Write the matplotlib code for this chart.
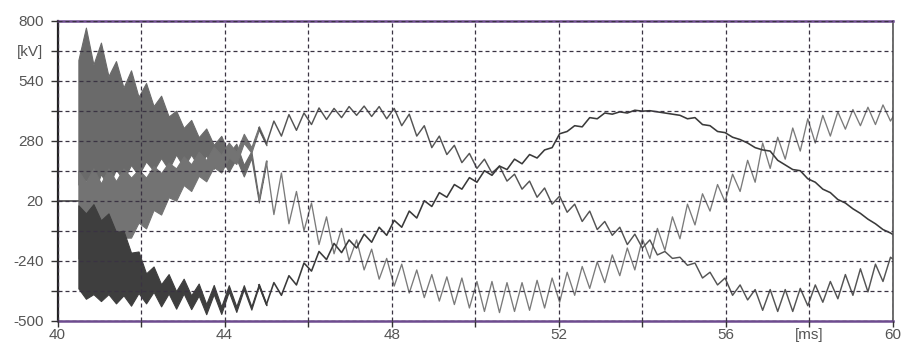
import numpy as np
import matplotlib
matplotlib.use("Agg")
import matplotlib.pyplot as plt

plt.rcParams['font.family'] = ['Liberation Sans', 'DejaVu Sans']

# Sample instants of the recorded waveforms (ripple extrema spacing), ms
t_ms = 40.5 + 0.18 * np.arange(110)

# Pre-switching level, kV
pre_t = [40.0, 40.5]
pre_kv = [20, 20]

# Phase voltages at the sample instants, kV
phase_a_kv = [-180, -220, -190, -240, -210, -270, -250, -320, -290, -360,
              -320, -390, -340, -410, -350, -420, -365, -450, -365, -455,
              -360, -450, -355, -445, -345, -430, -335, -390, -305, -345,
              -250, -285, -200, -235, -165, -205, -150, -185, -125, -160,
              -95, -130, -65, -95, -25, -55, 20, -5, 55, 35,
              90, 70, 120, 100, 150, 130, 170, 155, 200, 180,
              220, 205, 240, 250, 310, 320, 345, 340, 380, 375,
              400, 395, 405, 400, 412, 408, 410, 405, 400, 395,
              390, 375, 380, 350, 345, 320, 315, 295, 285, 270,
              250, 240, 235, 195, 175, 155, 150, 115, 100, 70,
              55, 25, 10, -15, -35, -60, -80, -105, -120, -140]

phase_b_kv = [-40, -80, -20, -70, -10, -40, 10, -10, 40, 10,
              75, 50, 110, 90, 150, 120, 180, 150, 210, 180,
              240, 205, 290, 240, 335, 265, 365, 300, 393, 325,
              400, 350, 422, 372, 420, 380, 428, 390, 430, 385,
              428, 375, 420, 345, 395, 300, 345, 250, 300, 220,
              260, 185, 225, 160, 200, 140, 170, 105, 135, 70,
              105, 35, 75, 5, 40, -30, 5, -70, -25, -105,
              -70, -130, -95, -170, -125, -185, -150, -215, -200, -230,
              -225, -260, -250, -315, -290, -345, -315, -390, -345, -410,
              -365, -455, -365, -460, -365, -460, -360, -435, -345, -420,
              -330, -405, -300, -390, -275, -375, -255, -330, -225, -250]

phase_c_kv = [360, 440, 330, 420, 320, 390, 310, 380, 300, 360,
              290, 340, 270, 315, 250, 295, 230, 275, 210, 255,
              185, 235, 150, 220, 20, 190, -40, 140, -80, 60,
              -110, 10, -170, -50, -210, -100, -240, -150, -280, -190,
              -320, -230, -350, -255, -380, -280, -400, -300, -415, -310,
              -430, -315, -445, -330, -460, -330, -465, -335, -460, -335,
              -455, -325, -445, -315, -420, -290, -390, -265, -360, -245,
              -335, -215, -305, -185, -280, -145, -230, -100, -195, -50,
              -145, 5, -85, 50, -25, 90, 15, 135, 60, 195,
              100, 270, 160, 295, 200, 335, 235, 375, 270, 390,
              300, 405, 330, 415, 345, 425, 350, 435, 365, 420]

# Half-width of the high-frequency oscillation right after switching, kV
hf_a_kv = [180, 185, 195, 175, 175, 155, 140, 115, 90, 65,
           55, 48, 42, 38, 32, 30, 26, 22, 20, 16, 14, 12, 9, 7, 5, 3]
hf_b_kv = [190, 180, 180, 165, 170, 145, 150, 130, 115, 110,
           95, 90, 75, 70, 62, 58, 52, 46, 44, 38, 32, 26, 20, 12, 8, 5]
hf_c_kv = [270, 330, 280, 285, 240, 235, 200, 205, 170, 170,
           140, 135, 115, 95, 85, 75, 65, 58, 52, 46, 40, 32, 25, 15, 8, 5]

# Axis ticks and labels
x_grid = [40, 42, 44, 46, 48, 50, 52, 54, 56, 58, 60]
x_labels = ['40', '', '44', '', '48', '', '52', '', '56', '[ms]', '60']
y_grid = [-500, -370, -240, -110, 20, 150, 280, 410, 540, 670, 800]
y_labels = ['-500', '', '-240', '', '20', '', '280', '', '540', '[kV]', '800']

W, H = 902, 344
fig = plt.figure(figsize=(W / 100, H / 100), dpi=100, facecolor='white')
ax = fig.add_axes([57.5 / W, 1 - 320.7 / H, (893 - 57.5) / W, 300 / H])
ax.set_facecolor('white')

traces = [
    (phase_c_kv, hf_c_kv, '#6a6a6a', '#7a7a7a', 0.95),
    (phase_b_kv, hf_b_kv, '#737373', '#555555', 1.05),
    (phase_a_kv, hf_a_kv, '#3e3e3e', '#3a3a3a', 1.15),
]
for values, hf, band_col, line_col, lw in traces:
    v = np.asarray(values, dtype=float)
    n = len(hf)
    h = np.asarray(hf, dtype=float)
    ax.fill_between(t_ms[:n], v[:n] - h, v[:n] + h, color=band_col,
                    linewidth=0.8, edgecolor=band_col, zorder=1.5)
    ax.plot(t_ms[n - 2:], v[n - 2:], color=line_col, lw=lw, zorder=2)

ax.plot(pre_t, pre_kv, color='#3a3a3a', lw=1.1, zorder=2)

ax.set_xlim(40, 60)
ax.set_ylim(-500, 800)
ax.set_xticks(x_grid)
ax.set_xticklabels(x_labels)
ax.set_yticks(y_grid)
ax.set_yticklabels(y_labels)
ax.tick_params(direction='out', width=1.0, color='#333333',
               labelsize=11, labelcolor='#555555')
ax.tick_params(axis='y', length=5, pad=5)
ax.tick_params(axis='x', length=4, pad=1.5)

ax.grid(True, color='#3a3342', linestyle=(0, (3.2, 2.4)), linewidth=0.9)
ax.set_axisbelow(False)

for side in ('top', 'bottom'):
    ax.spines[side].set_color('#6d4b8f')
    ax.spines[side].set_linewidth(1.8)
ax.spines['left'].set_color('#222222')
ax.spines['left'].set_linewidth(1.6)
ax.spines['right'].set_color('#555555')
ax.spines['right'].set_linewidth(1.2)

fig.savefig('out.png', dpi=100, facecolor='white')
